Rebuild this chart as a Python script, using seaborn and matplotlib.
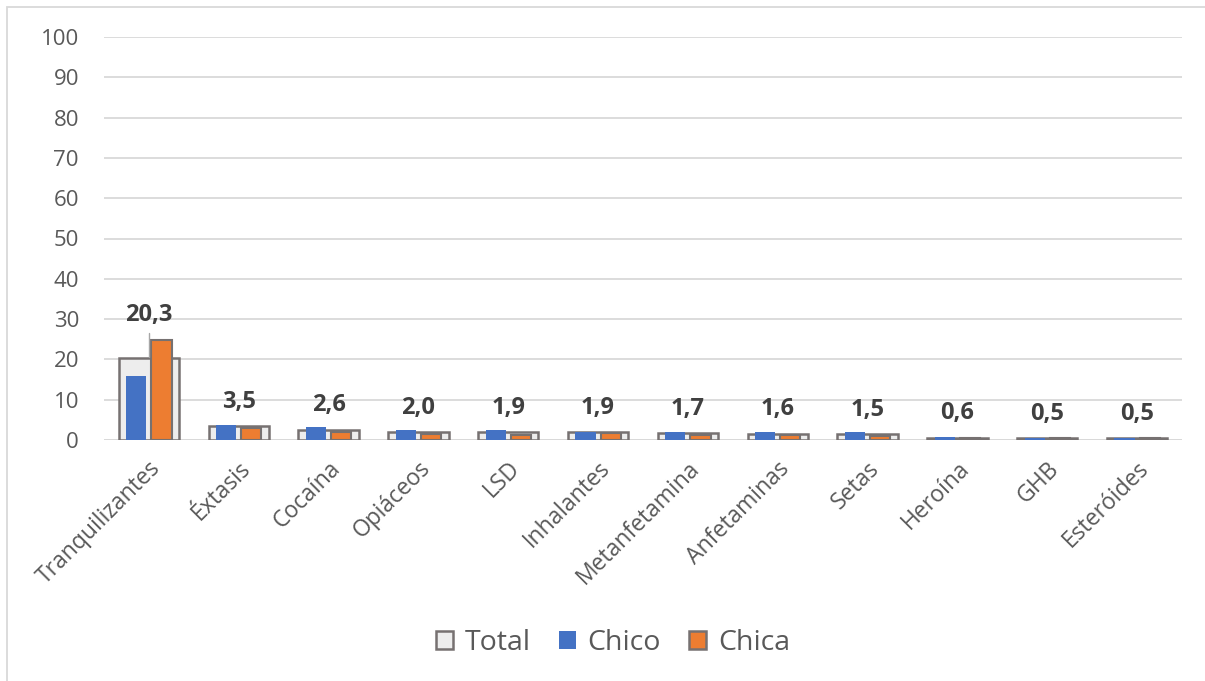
import matplotlib
matplotlib.use("Agg")
import matplotlib.pyplot as plt
import matplotlib.patches as mpatches
import seaborn as sns
import pandas as pd

categories = ["Tranquilizantes", "Éxtasis", "Cocaína", "Opiáceos", "LSD", "Inhalantes",
              "Metanfetamina", "Anfetaminas", "Setas", "Heroína", "GHB", "Esteróides"]
total = [20.3, 3.5, 2.6, 2.0, 1.9, 1.9, 1.7, 1.6, 1.5, 0.6, 0.5, 0.5]
chico = [15.8, 3.7, 3.2, 2.4, 2.5, 1.9, 1.9, 2.0, 1.9, 0.7, 0.6, 0.6]
chica = [24.8, 3.1, 1.9, 1.4, 1.2, 1.8, 1.3, 1.2, 1.0, 0.4, 0.4, 0.4]
y_ticks = [0, 10, 20, 30, 40, 50, 60, 70, 80, 90, 100]

TOTAL_FACE = "#EDEDED"
EDGE = "#767171"
BLUE = "#4472C4"
ORANGE = "#ED7D31"
TEXT = "#595959"
LABEL = "#404040"

sns.set_theme(style="white")
plt.rcParams["font.family"] = ["Open Sans", "DejaVu Sans"]

fig = plt.figure(figsize=(12.05, 6.81), dpi=100)
ax = fig.add_axes([104 / 1205, 1 - 440 / 681, (1182 - 104) / 1205, (440 - 37) / 681])

df_total = pd.DataFrame({"cat": categories, "val": total})
sns.barplot(data=df_total, x="cat", y="val", order=categories, width=0.67,
            color=TOTAL_FACE, edgecolor=EDGE, linewidth=1.8, saturation=1,
            ax=ax, zorder=2)

df_sex = pd.DataFrame({
    "cat": categories * 2,
    "val": chico + chica,
    "sexo": ["Chico"] * len(categories) + ["Chica"] * len(categories),
})
sns.barplot(data=df_sex, x="cat", y="val", hue="sexo", order=categories,
            hue_order=["Chico", "Chica"], palette=[BLUE, ORANGE], width=0.56,
            gap=0.2, saturation=1, linewidth=0, legend=False, ax=ax, zorder=3)

# orange bars carry a gray outline
for p in ax.patches:
    if matplotlib.colors.to_hex(p.get_facecolor()).lower() == ORANGE.lower():
        p.set_edgecolor(EDGE)
        p.set_linewidth(1.5)

ax.set_xlim(-0.5, len(categories) - 0.5)
ax.set_ylim(0, 100)
ax.set_yticks(y_ticks)
ax.yaxis.grid(True, color="#D9D9D9", linewidth=1.3, zorder=0)
ax.set_axisbelow(True)
for s in ax.spines.values():
    s.set_visible(False)
ax.axhline(0, color="#D9D9D9", linewidth=1.3, zorder=1)
ax.set_xlabel("")
ax.set_ylabel("")
ax.tick_params(axis="y", labelsize=16, colors=TEXT, length=0, pad=18)
ax.tick_params(axis="x", labelsize=16.5, colors=TEXT, length=0, pad=12)
plt.setp(ax.get_xticklabels(), rotation=45, ha="right", rotation_mode="anchor")

# value labels of the total
for i, v in enumerate(total):
    txt = f"{v:.1f}".replace(".", ",")
    if i == 0:
        ax.text(i, 31.0, txt, ha="center", va="center", fontsize=17,
                fontweight="bold", color=LABEL, zorder=5)
        ax.plot([i, i], [26.5, v + 0.3], color="#A6A6A6", linewidth=1, zorder=4)
    else:
        ax.text(i, v + 6.0, txt, ha="center", va="center", fontsize=17,
                fontweight="bold", color=LABEL, zorder=5)

handles = [
    mpatches.Patch(facecolor=TOTAL_FACE, edgecolor=EDGE, linewidth=1.8, label="Total"),
    mpatches.Patch(facecolor=BLUE, edgecolor=BLUE, linewidth=0, label="Chico"),
    mpatches.Patch(facecolor=ORANGE, edgecolor=EDGE, linewidth=1.8, label="Chica"),
]
leg = fig.legend(handles=handles, loc="center", bbox_to_anchor=(613 / 1205, 1 - 643 / 681),
                 ncol=3, frameon=False, fontsize=20.5, handlelength=0.6, handleheight=0.6,
                 handletextpad=0.4, columnspacing=1.0, labelcolor=TEXT)

fig.patches.append(mpatches.Rectangle((7 / 1205, -0.1), 1.2, 1.1 - 7 / 681,
                                      transform=fig.transFigure, fill=False,
                                      edgecolor="#D9D9D9", linewidth=1.3))

fig.savefig("out.png", dpi=100)
